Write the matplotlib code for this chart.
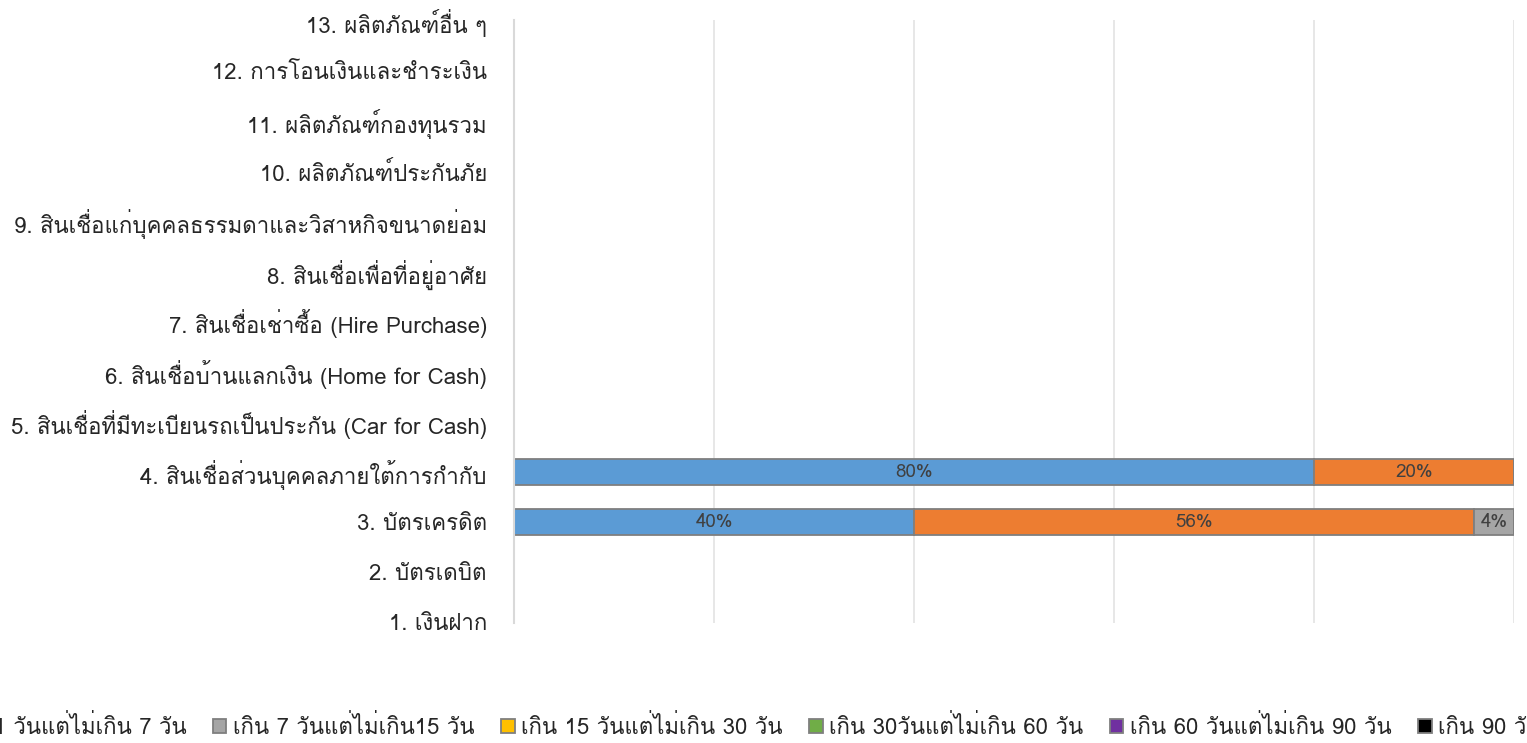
import numpy as np
import matplotlib
matplotlib.use('Agg')
import matplotlib.pyplot as plt

plt.rcParams['font.family'] = ['Loma', 'Noto Sans Thai Looped', 'Noto Sans', 'DejaVu Sans']

# categories (bottom to top)
categories = [
    '1. เงินฝาก',
    '2. บัตรเดบิต',
    '3. บัตรเครดิต',
    '4. สินเชื่อส่วนบุคคลภายใต้การกำกับ',
    '5. สินเชื่อที่มีทะเบียนรถเป็นประกัน (Car for Cash)',
    '6. สินเชื่อบ้านแลกเงิน (Home for Cash)',
    '7. สินเชื่อเช่าซื้อ (Hire Purchase)',
    '8. สินเชื่อเพื่อที่อยู่อาศัย',
    '9. สินเชื่อแก่บุคคลธรรมดาและวิสาหกิจขนาดย่อม',
    '10. ผลิตภัณฑ์ประกันภัย',
    '11. ผลิตภัณฑ์กองทุนรวม',
    '12. การโอนเงินและชำระเงิน',
    '13. ผลิตภัณฑ์อื่น ๆ',
]

series_names = [
    'ไม่เกิน 1 วัน',
    'เกิน 1 วันแต่ไม่เกิน 7 วัน',
    'เกิน 7 วันแต่ไม่เกิน15 วัน',
    'เกิน 15 วันแต่ไม่เกิน 30 วัน',
    'เกิน 30วันแต่ไม่เกิน 60 วัน',
    'เกิน 60 วันแต่ไม่เกิน 90 วัน',
    'เกิน 90 วัน',
]
colors = ['#5B9BD5', '#ED7D31', '#A5A5A5', '#FFC000', '#70AD47', '#7030A0', '#000000']

# share of each series per category (same order as categories)
s_1day = [0, 0, 0.40, 0.80, 0, 0, 0, 0, 0, 0, 0, 0, 0]
s_7day = [0, 0, 0.56, 0.20, 0, 0, 0, 0, 0, 0, 0, 0, 0]
s_15day = [0, 0, 0.04, 0, 0, 0, 0, 0, 0, 0, 0, 0, 0]
s_30day = [0] * 13
s_60day = [0] * 13
s_90day = [0] * 13
s_over90 = [0] * 13
series = [s_1day, s_7day, s_15day, s_30day, s_60day, s_90day, s_over90]

fig = plt.figure(figsize=(15.27, 7.43), dpi=100)
ax = fig.add_axes([514 / 1527, 120 / 743, 1000 / 1527, 603 / 743])

y = np.arange(len(categories))
left = np.zeros(len(categories))
for name, vals, col in zip(series_names, series, colors):
    vals = np.array(vals, dtype=float)
    bars = ax.barh(y, vals, left=left, height=0.52, color=col,
                   edgecolor='#7F7F7F', linewidth=1.3, label=name)
    labels = ['{:.0f}%'.format(v * 100) if v > 0 else '' for v in vals]
    ax.bar_label(bars, labels=labels, label_type='center',
                 fontsize=13.5, color='#404040')
    left += vals

ax.set_xlim(0, 1)
ax.set_ylim(-0.02, len(categories) - 0.98)
ax.set_xticks(np.arange(0, 1.01, 0.2))
ax.set_xticklabels([])
ax.tick_params(axis='x', length=0)
ax.grid(axis='x', color='#E3E3E3', linewidth=1.2)
ax.set_axisbelow(True)

ax.set_yticks(y)
ax.set_yticklabels(categories, fontsize=16, color='#262626')
ax.tick_params(axis='y', length=0, pad=19.5)

for side in ['top', 'right', 'bottom']:
    ax.spines[side].set_visible(False)
ax.spines['left'].set_color('#D9D9D9')
ax.spines['left'].set_linewidth(1.5)

leg = fig.legend(loc='center left', bbox_to_anchor=(0, 16 / 743), ncol=7,
                 frameon=False, fontsize=16, handlelength=0.6, handleheight=0.6,
                 handletextpad=0.3, columnspacing=1.2, labelcolor='#262626',
                 borderpad=0, borderaxespad=0)

# shift the legend so the grey entry lands where it does in the original
fig.canvas.draw()
gx = leg.legend_handles[2].get_window_extent().x0
leg.set_bbox_to_anchor(((213 - gx) / 1527, 16 / 743), transform=fig.transFigure)

fig.savefig('out.png')
